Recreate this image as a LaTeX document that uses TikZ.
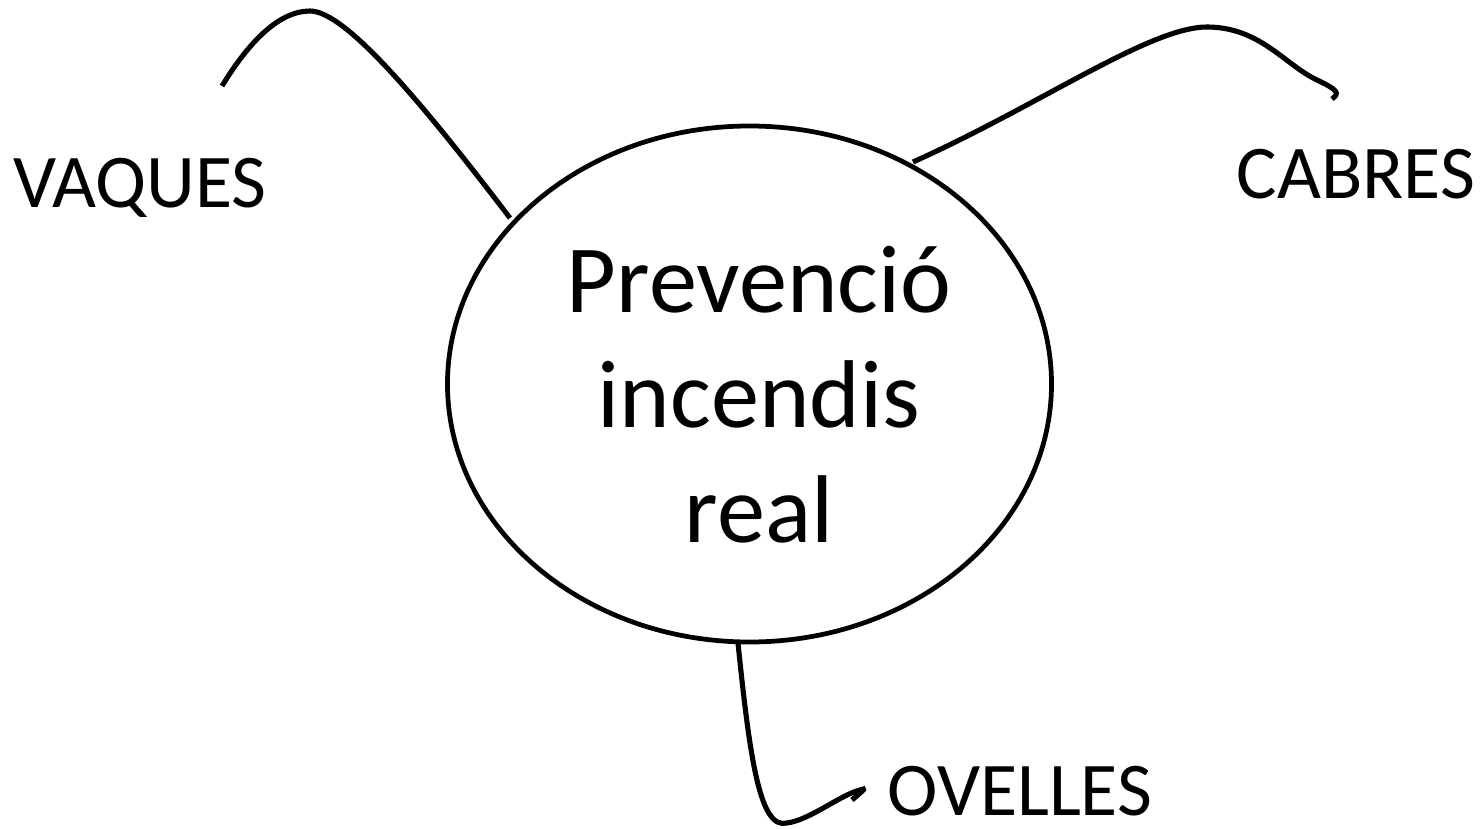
\documentclass[tikz,border=0pt]{standalone}
\usepackage{fontspec}
\setmainfont{Carlito}
\usetikzlibrary{shapes.geometric}
\begin{document}
\begin{tikzpicture}[x=1cm,y=1cm,
  link/.style={line width=1.45pt,line cap=butt},
  lbl/.style={inner sep=0pt,font=\fontsize{21.6}{26}\selectfont},
  hub/.style={draw,ellipse,line width=1.35pt,minimum width=6.04cm,minimum height=5.16cm,inner sep=0pt}]
\useasboundingbox (0,0) rectangle (14.83,-8.28);
\node[hub] (e) at (7.495,-3.84) {};
\node[align=center,inner sep=0pt,font=\fontsize{27.4}{32.7}\selectfont] (t) at (7.59,-3.95) {Prevenció\\incendis\\real};
\node[lbl] (vaq) at (1.40,-1.88) {VAQUES};
\node[lbl] (cab) at (13.56,-1.74) {CABRES};
\node[lbl] (ove) at (10.20,-7.91) {OVELLES};
\coordinate (v0) at (2.22,-0.86);
\coordinate (c0) at (13.32,-0.99);
\coordinate (o0) at (8.52,-8.0);
\coordinate (ev) at (5.10,-2.18);
\coordinate (ec) at (9.13,-1.62);
\coordinate (eo) at (7.38,-6.43);
\draw[link] (v0) .. controls (2.5,-0.4) and (2.8,-0.11) .. (3.10,-0.11)
  .. controls (3.45,-0.11) and (4.2,-1.0) .. (ev);
\draw[link] (ec) .. controls (10.4,-1.05) and (11.5,-0.27) .. (12.07,-0.27)
  .. controls (12.6,-0.27) and (12.85,-0.65) .. (13.17,-0.80)
  .. controls (13.38,-0.90) and (13.40,-0.93) .. (c0);
\draw[link] (eo) .. controls (7.5,-7.6) and (7.6,-8.3) .. (7.87,-8.23)
  .. controls (8.1,-8.2) and (8.4,-7.95) .. (8.6,-7.9)
  .. controls (8.66,-7.88) .. (o0);
\end{tikzpicture}
\end{document}
